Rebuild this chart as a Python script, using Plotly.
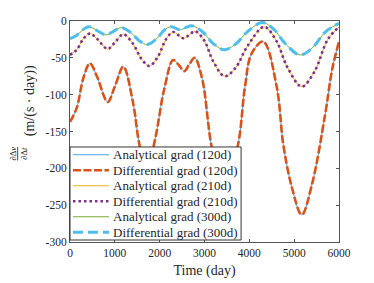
import plotly.graph_objects as go

# ---- data ----
x_120 = [0, 150, 300, 446, 600, 840, 1000, 1190, 1400, 1560, 1720, 1900, 2100, 2300,
         2430, 2550, 2660, 2780, 2950, 3160, 3420, 3740, 3904, 4052, 4312, 4610, 4758,
         4950, 5168, 5400, 5688, 5850, 6000]
y_120 = [-137, -118, -77, -57.5, -75, -110, -89, -62, -109, -171, -200, -160, -93, -53,
         -60, -68, -59, -50, -79, -171, -230, -170, -89, -44, -28, -89, -168,
         -226, -263, -221, -128, -65, -28]

x_210 = [0, 150, 300, 446, 600, 840, 1000, 1190, 1400, 1600, 1770, 1950, 2150, 2305,
         2528, 2660, 2790, 2990, 3200, 3450, 3700, 3950, 4330, 4600, 4850, 5168, 5450,
         5750, 6000]
y_210 = [-46, -39, -24, -17, -24, -38, -29.3, -18, -30.5, -52, -61, -49.5, -24, -15,
         -23.5, -19, -14, -26, -55.5, -75, -63, -35, -8, -26.6, -63, -89, -69,
         -25, -8]

x_300 = [0, 150, 300, 416, 600, 803, 970, 1138, 1350, 1550, 1733, 1950, 2100, 2253,
         2453, 2580, 2714, 2950, 3200, 3440, 3700, 3950, 4290, 4550, 4800, 5130, 5400,
         5700, 6000]
y_300 = [-24, -19.3, -11.3, -7.7, -12.9, -19, -14, -9, -15.4, -27, -32, -23, -12.5, -7.7,
         -12, -9, -6.4, -14.2, -31, -39, -31, -15, -2, -11.5, -30.6, -46, -36.8,
         -14.6, -3]

x_ticks = [0, 1000, 2000, 3000, 4000, 5000, 6000]
y_ticks = [-300, -250, -200, -150, -100, -50, 0]
y_tick_labels = ["-300", "-250", "-200", "-150", "-100", "-50", "0"]

names = ["Analytical grad (120d)", "Differential grad (120d)",
         "Analytical grad (210d)", "Differential grad (210d)",
         "Analytical grad (300d)", "Differential grad (300d)"]

FONT = "Liberation Serif"
TXT = "#262626"

styles = [
    dict(color="#4aa3e3", width=1),
    dict(color="#d95319", width=2.6, dash="8px,2.5px"),
    dict(color="#edb120", width=1),
    dict(color="#7e2f8e", width=2.6, dash="2.5px,3px"),
    dict(color="#77ac30", width=1),
    dict(color="#4dbeee", width=3, dash="10px,5px"),
]
series = [(x_120, y_120), (x_120, y_120), (x_210, y_210), (x_210, y_210),
          (x_300, y_300), (x_300, y_300)]

fig = go.Figure()
for (xs, ys), nm, st in zip(series, names, styles):
    fig.add_trace(go.Scatter(x=xs, y=ys, name=nm, mode="lines", line_shape="spline",
                             line=st, showlegend=False))

axis_common = dict(showline=True, linecolor="#555555", linewidth=1, mirror="ticks",
                   ticks="inside", ticklen=3, tickcolor="#555555", showgrid=False,
                   zeroline=False, automargin=False,
                   tickfont=dict(family=FONT, size=11.5, color=TXT))

fig.update_xaxes(range=[0, 6000], tickvals=x_ticks,
                 title=dict(text="Time (day)", font=dict(family=FONT, size=14, color=TXT), standoff=7),
                 **axis_common)
fig.update_yaxes(range=[-300, 0], tickvals=y_ticks, ticktext=y_tick_labels, **axis_common)

annotations = [
    # y-axis label: fraction part and unit part
    dict(xref="paper", yref="paper", x=-0.19, y=0.40,
         text="<u>∂Δ<i>v</i></u><br>∂Δ<i>t</i>", textangle=-90, showarrow=False,
         xanchor="center", yanchor="middle",
         font=dict(family=FONT, size=8.5, color=TXT)),
    dict(xref="paper", yref="paper", x=-0.148, y=0.638,
         text="(m/(s · day))", textangle=-90, showarrow=False,
         xanchor="center", yanchor="middle",
         font=dict(family=FONT, size=14, color=TXT)),
]

# ---- legend box (drawn in paper coordinates over the plot area) ----
L_X0, L_X1, L_Y0, L_Y1 = 0.0, 0.636, 0.009, 0.43
row_h = (L_Y1 - L_Y0) / len(names)
shapes = [dict(type="rect", xref="paper", yref="paper", x0=L_X0, x1=L_X1, y0=L_Y0, y1=L_Y1,
               fillcolor="white", line=dict(color="#333333", width=1), layer="above")]
for i, (nm, st) in enumerate(zip(names, styles)):
    yc = L_Y1 - row_h * (i + 0.5)
    shapes.append(dict(type="line", xref="paper", yref="paper", x0=0.011, x1=0.145,
                       y0=yc, y1=yc, line=st, layer="above"))
    annotations.append(dict(xref="paper", yref="paper", x=0.154, y=yc, text=nm,
                            xanchor="left", yanchor="middle", showarrow=False,
                            font=dict(family=FONT, size=13, color=TXT)))

# page body has an 8px default margin, so the figure is 8px smaller and margins shifted
fig.update_layout(
    width=366, height=275,
    margin=dict(l=62, r=35, t=13, b=41),
    paper_bgcolor="white", plot_bgcolor="white",
    font=dict(family=FONT, color=TXT),
    showlegend=False,
    shapes=shapes, annotations=annotations,
)

fig.write_html("out.html")
